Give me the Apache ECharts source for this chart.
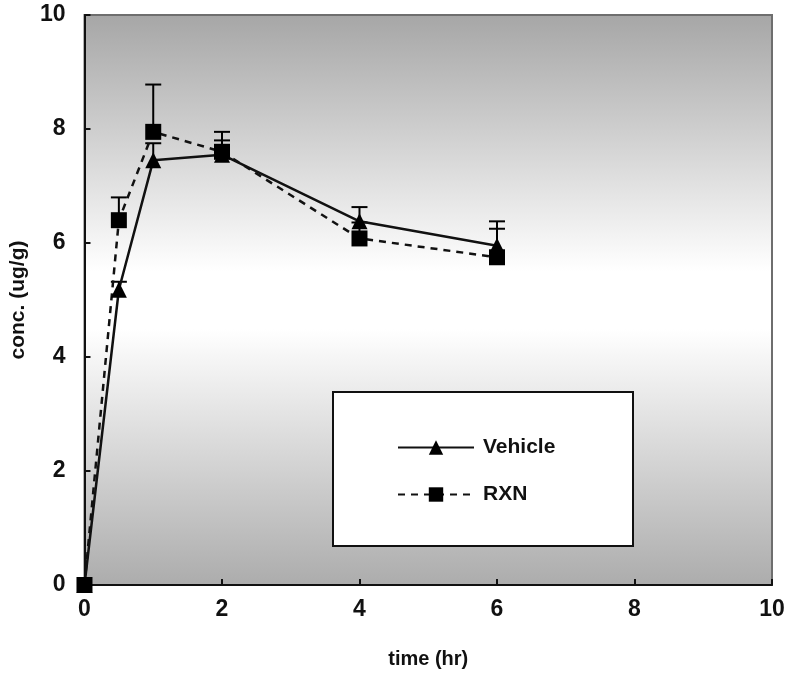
<!DOCTYPE html>
<html>
<head>
<meta charset="utf-8">
<script src="https://cdn.jsdelivr.net/npm/echarts@6/dist/echarts.min.js"></script>
<style>html,body{margin:0;padding:0;background:#fff;}#c{width:789px;height:677px;}</style>
</head>
<body>
<div id="c"></div>
<script>
const times = [0, 0.5, 1, 2, 4, 6];
const vehicle = [0, 5.18, 7.45, 7.55, 6.38, 5.95];
const vehicleSD = [0, 0.14, 0.3, 0.25, 0.25, 0.43];
const rxn = [0, 6.40, 7.95, 7.60, 6.08, 5.75];
const rxnSD = [0, 0.40, 0.83, 0.35, 0.28, 0.5];
const xTicks = [0, 2, 4, 6, 8, 10];
const yTicks = [0, 2, 4, 6, 8, 10];

const font = 'Liberation Sans, Arial, sans-serif';

function pairs(xs, ys) { return xs.map((x, i) => [x, ys[i]]); }
function errData(xs, ys, sds) { return xs.map((x, i) => [x, ys[i], ys[i] + sds[i]]); }

function errRender(params, api) {
  const x = api.value(0), y = api.value(1), top = api.value(2);
  if (top <= y) return null;
  const p0 = api.coord([x, y]);
  const p1 = api.coord([x, top]);
  const hw = 8;
  const st = { stroke: '#000', lineWidth: 2 };
  return {
    type: 'group',
    children: [
      { type: 'line', shape: { x1: p0[0], y1: p0[1], x2: p1[0], y2: p1[1] }, style: st },
      { type: 'line', shape: { x1: p1[0] - hw, y1: p1[1], x2: p1[0] + hw, y2: p1[1] }, style: st }
    ]
  };
}

const chart = echarts.init(document.getElementById('c'));
chart.setOption({
  animation: false,
  textStyle: { fontFamily: font },
  grid: {
    left: 83, top: 15, right: 17, bottom: 92,
    show: true,
    borderColor: '#6e6e6e', borderWidth: 2,
    backgroundColor: {
      type: 'linear', x: 0, y: 0, x2: 0, y2: 1,
      colorStops: [
        { offset: 0, color: '#a6a6a6' },
        { offset: 0.45, color: '#ffffff' },
        { offset: 0.55, color: '#ffffff' },
        { offset: 1, color: '#acacac' }
      ]
    }
  },
  graphic: [{
    type: 'rect', left: 332, top: 391, z: 3,
    shape: { width: 300, height: 154 },
    style: { fill: '#ffffff', stroke: '#111', lineWidth: 2 }
  }],
  legend: {
    left: 392, top: 432, orient: 'vertical', z: 5,
    itemWidth: 76, itemHeight: 18, itemGap: 26,
    textStyle: { fontFamily: font, fontWeight: 'bold', fontSize: 21, color: '#111', padding: [0, 0, 0, 4] },
    data: ['Vehicle', 'RXN']
  },
  xAxis: {
    type: 'value', min: 0, max: 10, interval: 2,
    name: 'time (hr)', nameLocation: 'middle', nameGap: 64,
    nameTextStyle: { fontFamily: font, fontWeight: 'bold', fontSize: 20, color: '#111' },
    axisLine: { lineStyle: { color: '#111', width: 2 } },
    axisTick: { inside: true, length: 6, lineStyle: { color: '#111', width: 2 } },
    axisLabel: { margin: 13, fontFamily: font, fontWeight: 'bold', fontSize: 23, color: '#111',
      formatter: v => xTicks.includes(v) ? String(v) : '' },
    splitLine: { show: false }
  },
  yAxis: {
    type: 'value', min: 0, max: 10, interval: 2,
    name: 'conc. (ug/g)', nameLocation: 'middle', nameGap: 52,
    nameTextStyle: { fontFamily: font, fontWeight: 'bold', fontSize: 21, color: '#111' },
    axisLine: { lineStyle: { color: '#111', width: 2 } },
    axisTick: { inside: true, length: 6, lineStyle: { color: '#111', width: 2 } },
    axisLabel: { margin: 19, fontFamily: font, fontWeight: 'bold', fontSize: 23, color: '#111',
      formatter: v => yTicks.includes(v) ? String(v) : '' },
    splitLine: { show: false }
  },
  series: [
    {
      type: 'custom', name: 'vehErr', renderItem: errRender, z: 1,
      data: errData(times, vehicle, vehicleSD), encode: { x: 0, y: [1, 2] }, silent: true
    },
    {
      type: 'custom', name: 'rxnErr', renderItem: errRender, z: 1,
      data: errData(times, rxn, rxnSD), encode: { x: 0, y: [1, 2] }, silent: true
    },
    {
      type: 'line', name: 'Vehicle', data: pairs(times, vehicle), z: 2,
      symbol: 'triangle', symbolSize: 16, showAllSymbol: true,
      lineStyle: { color: '#111', width: 2.5 },
      itemStyle: { color: '#000' }
    },
    {
      type: 'line', name: 'RXN', data: pairs(times, rxn), z: 2,
      symbol: 'rect', symbolSize: 16, showAllSymbol: true,
      lineStyle: { color: '#111', width: 2.5, type: [7, 6] },
      itemStyle: { color: '#000' }
    }
  ]
});
</script>
</body>
</html>
